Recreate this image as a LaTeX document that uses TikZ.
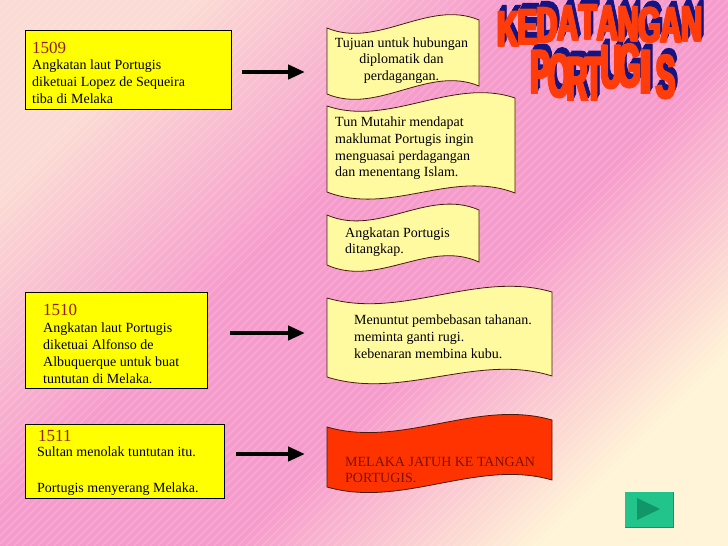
\documentclass[tikz,border=0pt]{standalone}
\usepackage{fontspec}
\setmainfont{Liberation Serif}
\newfontfamily\wordart{Liberation Sans}[BoldFeatures={FakeBold=2.5}]
\usetikzlibrary{arrows.meta, positioning, calc}

\definecolor{boxyellow}{RGB}{255,255,0}
\definecolor{waveyellow}{RGB}{255,250,160}
\definecolor{waveline}{RGB}{70,25,10}
\definecolor{yearred}{RGB}{150,30,0}
\definecolor{fallred}{RGB}{255,51,0}
\definecolor{falltext}{RGB}{128,16,0}
\definecolor{bgpeach}{RGB}{251,220,212}
\definecolor{bgpink}{RGB}{246,156,204}
\definecolor{bgcream}{RGB}{255,244,214}
\definecolor{artred}{RGB}{255,60,10}
\definecolor{artnavy}{RGB}{20,20,130}
\definecolor{btngreen}{RGB}{34,196,140}
\definecolor{btndark}{RGB}{16,150,104}

\pgfdeclarehorizontalshading{bgshade}{100bp}{color(0bp)=(bgpeach); color(25bp)=(bgpeach);
    color(43bp)=(bgpink); color(58bp)=(bgpink); color(75bp)=(bgcream); color(100bp)=(bgcream)}

\begin{document}
\begin{tikzpicture}[x=1pt, y=-1pt,
    event/.style = {draw=black, fill=boxyellow, line width=0.8pt,
                    anchor=north west, inner sep=0pt},
    txt/.style   = {font=\fontsize{14}{16.7}\selectfont, align=left,
                    anchor=north west, inner sep=0pt},
    year/.style  = {font=\fontsize{17}{17}\selectfont, text=yearred,
                    anchor=base west, inner sep=0pt},
    wave/.style  = {draw=waveline, fill=waveyellow, line width=0.8pt},
    arr/.style   = {line width=4.5pt, -{Triangle[length=17pt, width=14pt]}},
    artface/.style = {text=artred, anchor=base, inner sep=0pt},
    artside/.style = {text=artnavy, anchor=base, inner sep=0pt},
    toprow/.style  = {font=\wordart\bfseries\fontsize{50}{50}\selectfont},
    botrow/.style  = {font=\wordart\bfseries\fontsize{62}{62}\selectfont},
    stripe/.style  = {white, opacity=0.16, line width=1.2pt},
]
\useasboundingbox (0,0) rectangle (728,546);

%% ---- Background ----
\shade[shading=bgshade, shading angle=-45] (0,0) rectangle (728,546);
\begin{scope}
    \clip (0,0) rectangle (728,546);
    \foreach \k in {-546,-538,...,728}
        \draw[stripe] (\k,546) -- ({\k+546},0);
\end{scope}

%% ---- Title (extrusion first, then faces) ----
\foreach \c/\x/\y [count=\i] in {K/507.5/46, E/527.3/44, D/546.8/42, A/567.7/40, T/587.6/39,
                                 A/607.3/40, N/628.2/41, G/649.3/42, A/670.7/42, N/691.6/41} {
    \foreach \k in {1,...,4}
        \node[artside, toprow] (ks\i-\k) at ({\x+0.8*\k},{\y-1.5*\k})
            {\scalebox{0.58}[1]{\c}};
}
\foreach \c/\x/\y/\s [count=\i] in {P/540/93/0.47, O/559/97/0.47, R/577/100/0.47, T/594/100/0.47,
                                    U/611/88/0.47, G/629/87/0.47, I/645.5/93/0.75, S/665.5/98/0.47} {
    \foreach \k in {1,...,4}
        \node[artside, botrow] (ps\i-\k) at ({\x+0.8*\k},{\y-1.5*\k})
            {\scalebox{\s}[1]{\c}};
}
\foreach \c/\x/\y [count=\i] in {K/507.5/46, E/527.3/44, D/546.8/42, A/567.7/40, T/587.6/39,
                                 A/607.3/40, N/628.2/41, G/649.3/42, A/670.7/42, N/691.6/41} {
    \foreach \d [count=\j] in {-1,0,1}
        \node[artface, toprow] (kf\i-\j) at ({\x+\d},\y) {\scalebox{0.58}[1]{\c}};
}
\foreach \c/\x/\y/\s [count=\i] in {P/540/93/0.47, O/559/97/0.47, R/577/100/0.47, T/594/100/0.47,
                                    U/611/88/0.47, G/629/87/0.47, I/645.5/93/0.75, S/665.5/98/0.47} {
    \foreach \d [count=\j] in {-1,0,1}
        \node[artface, botrow] (pf\i-\j) at ({\x+\d},\y) {\scalebox{\s}[1]{\c}};
}

%% ---- 1509 ----
\node[event, minimum width=206pt, minimum height=79pt] (b1509) at (25,30) {};
\node[year] (y1509) at (32,53) {1509};
\node[txt] (t1509) at (32,60)
    {Angkatan laut Portugis\\diketuai Lopez de Sequeira\\tiba di Melaka};

%% ---- 1510 ----
\node[event, minimum width=182pt, minimum height=96pt] (b1510) at (25,292) {};
\node[year] (y1510) at (43,315) {1510};
\node[txt] (t1510) at (43,323)
    {Angkatan laut Portugis\\diketuai Alfonso de\\Albuquerque untuk buat\\tuntutan di Melaka.};

%% ---- 1511 ----
\node[event, minimum width=199pt, minimum height=74pt] (b1511) at (25,424) {};
\node[year] (y1511) at (38,441.7) {1511};
\node[txt] (t1511) at (37,447)
    {Sultan menolak tuntutan itu.\\[19.3pt]Portugis menyerang Melaka.};

%% ---- Wave notes ----
\draw[wave] (327,28) .. controls (377.7,49.3) and (428.3,-1.3) .. (479,20)
    -- (479,86) .. controls (428.3,64.7) and (377.7,115.3) .. (327,94) -- cycle;
\node[txt, anchor=north, align=center, font=\fontsize{14}{16.5}\selectfont]
    (tujuan) at (401.5,37.5)
    {Tujuan untuk hubungan\\diplomatik dan\\perdagangan.};

\draw[wave] (327,106) .. controls (389.7,127.3) and (452.3,76.7) .. (515,98)
    -- (515,193) .. controls (452.3,168.7) and (389.7,216.3) .. (327,192) -- cycle;
\node[txt] (mutahir) at (335,116.7)
    {Tun Mutahir mendapat\\maklumat Portugis ingin\\menguasai perdagangan\\dan menentang Islam.};

\draw[wave] (327,215) .. controls (377.7,237.3) and (428.3,187.7) .. (479,210)
    -- (479,262) .. controls (428.3,239) and (377.7,288) .. (327,265) -- cycle;
\node[txt] (tangkap) at (345,227.3) {Angkatan Portugis\\ditangkap.};

\draw[wave] (327,298) .. controls (402,320) and (477,270) .. (552,292)
    -- (552,376) .. controls (477,352.3) and (402,400.7) .. (327,377) -- cycle;
\node[txt] (tuntut) at (354,315)
    {Menuntut pembebasan tahanan.\\meminta ganti rugi.\\kebenaran membina kubu.};

\draw[wave, fill=fallred] (327,427) .. controls (402,448.7) and (477,398.3) .. (552,420)
    -- (552,480) .. controls (477,458.3) and (402,508.7) .. (327,487) -- cycle;
\node[txt, text=falltext] (jatuh) at (345,456.7)
    {MELAKA JATUH KE TANGAN\\PORTUGIS.};

%% ---- Arrows ----
\coordinate (a1s) at (242,72);  \coordinate (a1e) at (305,72);
\coordinate (a2s) at (230,333); \coordinate (a2e) at (305,333);
\coordinate (a3s) at (236,454); \coordinate (a3e) at (305,454);
\draw[arr] (a1s) -- (a1e);
\draw[arr] (a2s) -- (a2e);
\draw[arr] (a3s) -- (a3e);

%% ---- Next button ----
\node[fill=btngreen, minimum width=48pt, minimum height=35pt, inner sep=0pt,
      anchor=north west] (next) at (625,492) {};
\draw[btndark, line width=1.5pt] (next.north east) -- (next.south east) -- (next.south west);
\fill[btndark] (637,498) -- (637,520) -- (660,509) -- cycle;

\end{tikzpicture}
\end{document}
